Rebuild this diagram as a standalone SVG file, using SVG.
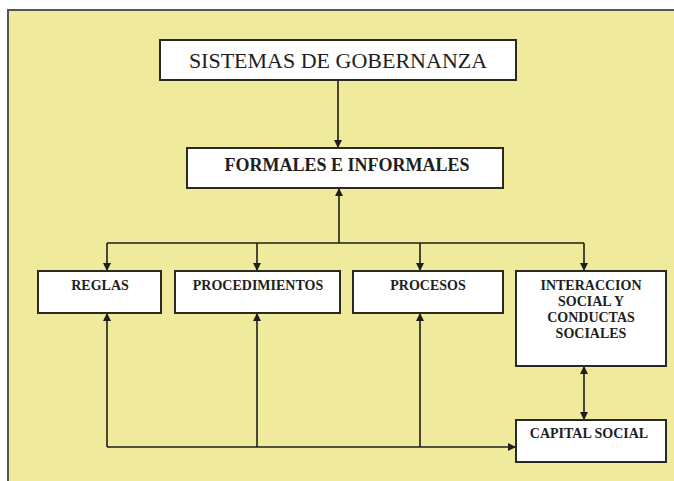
<svg xmlns="http://www.w3.org/2000/svg" width="674" height="481" viewBox="0 0 674 481">
<style>
.box{fill:#ffffff;stroke:#2a2a22;stroke-width:2}
.t{font-family:"Liberation Serif","Times New Roman",serif;fill:#1e1e1e;text-anchor:middle}
.b{font-weight:bold;font-size:14px}
.c{fill:none;stroke:#1e1e1e;stroke-width:1.6}
</style>
<defs>
<marker id="ah" viewBox="0 0 10 10" refX="10" refY="5" markerWidth="8" markerHeight="8" markerUnits="userSpaceOnUse" orient="auto-start-reverse">
<path d="M0,0 L10,5 L0,10 z" fill="#1e1e1e"/>
</marker>
</defs>
<rect x="0" y="0" width="674" height="481" fill="#ffffff"/>
<rect x="8" y="10" width="680" height="480" fill="#efea9c" stroke="#555550" stroke-width="2"/>
<g id="connectors">
<line class="c" x1="338" y1="80" x2="338" y2="148" marker-end="url(#ah)"/>
<line class="c" x1="339" y1="243" x2="339" y2="188" marker-end="url(#ah)"/>
<polyline class="c" points="107,243 584,243"/>
<line class="c" x1="107" y1="243" x2="107" y2="271" marker-end="url(#ah)"/>
<line class="c" x1="257" y1="243" x2="257" y2="271" marker-end="url(#ah)"/>
<line class="c" x1="420" y1="243" x2="420" y2="271" marker-end="url(#ah)"/>
<line class="c" x1="584" y1="243" x2="584" y2="271" marker-end="url(#ah)"/>
<line class="c" x1="107" y1="447" x2="107" y2="313" marker-end="url(#ah)"/>
<line class="c" x1="257" y1="447" x2="257" y2="313" marker-end="url(#ah)"/>
<line class="c" x1="420" y1="447" x2="420" y2="313" marker-end="url(#ah)"/>
<line class="c" x1="107" y1="447" x2="516" y2="447" marker-end="url(#ah)"/>
<line class="c" x1="584" y1="366" x2="584" y2="420" marker-start="url(#ah)" marker-end="url(#ah)"/>
</g>
<g id="sistemas">
<rect class="box" x="160" y="40" width="356" height="40"/>
<text class="t" x="338" y="68" font-size="22">SISTEMAS DE GOBERNANZA</text>
</g>
<g id="formales">
<rect class="box" x="187" y="148" width="316" height="40"/>
<text class="t" x="347" y="171" font-size="18" font-weight="bold">FORMALES E INFORMALES</text>
</g>
<g id="reglas">
<rect class="box" x="38" y="271" width="123" height="42"/>
<text class="t b" x="100" y="290">REGLAS</text>
</g>
<g id="procedimientos">
<rect class="box" x="175" y="271" width="165" height="42"/>
<text class="t b" x="258" y="290">PROCEDIMIENTOS</text>
</g>
<g id="procesos">
<rect class="box" x="353" y="271" width="150" height="42"/>
<text class="t b" x="428" y="290">PROCESOS</text>
</g>
<g id="interaccion">
<rect class="box" x="516" y="271" width="150" height="95"/>
<text class="t b" x="591" y="290">INTERACCION</text>
<text class="t b" x="591" y="306">SOCIAL Y</text>
<text class="t b" x="591" y="322">CONDUCTAS</text>
<text class="t b" x="591" y="338">SOCIALES</text>
</g>
<g id="capital">
<rect class="box" x="516" y="420" width="150" height="42"/>
<text class="t b" x="589" y="438">CAPITAL SOCIAL</text>
</g>
</svg>
